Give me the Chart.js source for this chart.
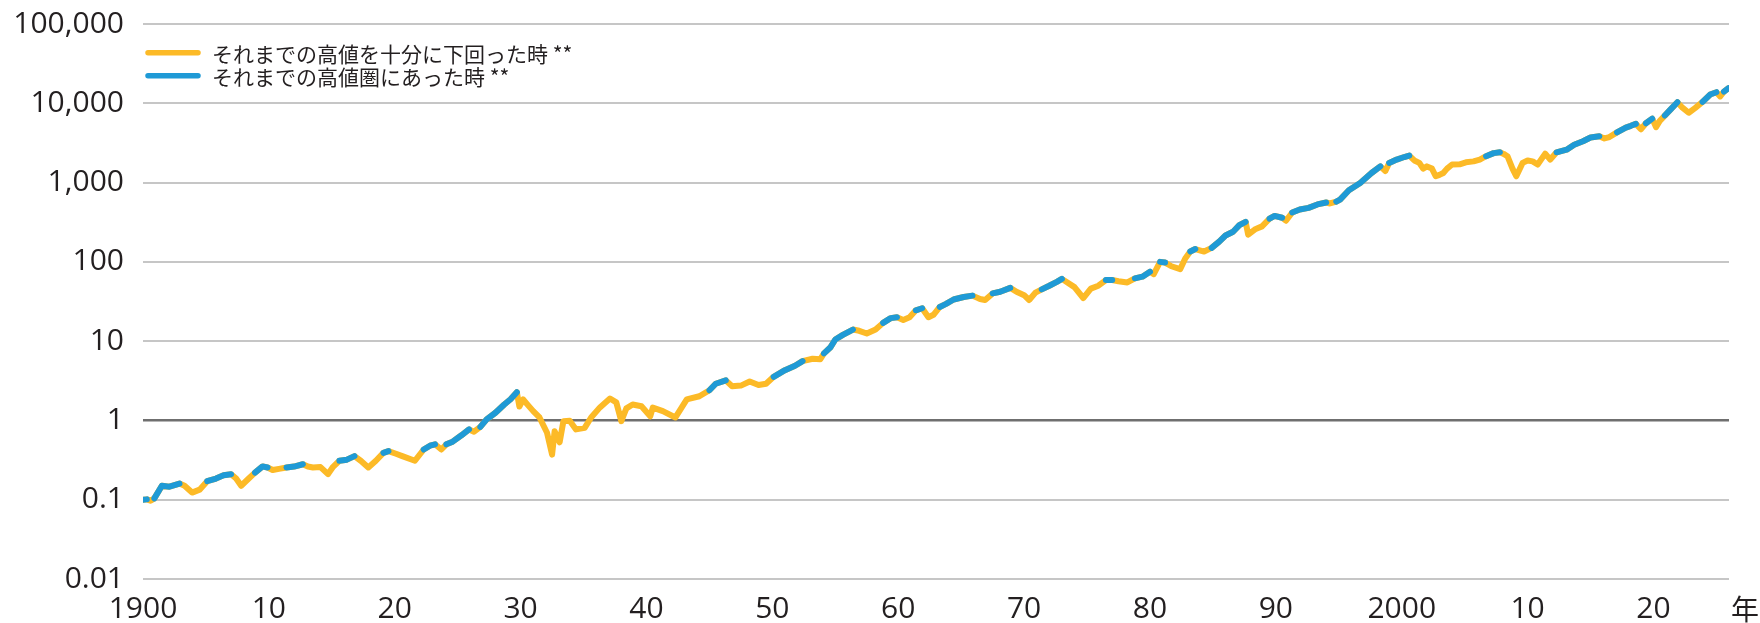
<!DOCTYPE html>
<html lang="ja">
<head>
<meta charset="utf-8">
<script src="https://cdn.jsdelivr.net/npm/chart.js@4.4.1/dist/chart.umd.min.js"></script>
<style>
html,body{margin:0;padding:0;background:#ffffff;}
canvas{display:block;}
</style>
</head>
<body>
<canvas id="c" width="1760" height="623"></canvas>
<script>
// ---- data ----
const years = [
1900.0,1900.3,1900.6,1900.9,1901.5,1902.1,1902.9,1903.3,1903.9,1904.5,
1905.1,1905.8,1906.4,1907.0,1907.4,1907.8,1908.4,1908.9,1909.5,1909.9,
1910.3,1910.8,1911.4,1912.0,1912.7,1913.1,1913.5,1914.1,1914.7,1915.1,
1915.6,1916.2,1916.8,1917.3,1917.9,1918.5,1919.1,1919.5,1920.1,1920.6,
1921.6,1922.3,1922.8,1923.2,1923.7,1924.1,1924.6,1925.3,1925.9,1926.3,
1926.8,1927.3,1928.0,1928.7,1929.2,1929.7,1929.9,1930.2,1930.6,1931.0,
1931.5,1932.1,1932.5,1932.7,1933.1,1933.4,1933.9,1934.4,1935.1,1935.6,
1936.3,1937.1,1937.6,1938.0,1938.4,1938.9,1939.6,1940.3,1940.5,1941.3,
1942.3,1943.2,1944.2,1945.0,1945.5,1946.3,1946.8,1947.5,1948.2,1948.9,
1949.5,1950.1,1951.0,1951.8,1952.4,1953.2,1953.8,1954.1,1954.6,1955.0,
1955.6,1956.4,1956.9,1957.5,1958.2,1958.8,1959.4,1959.9,1960.4,1960.9,
1961.4,1961.9,1962.4,1962.8,1963.3,1963.8,1964.4,1965.2,1965.9,1966.5,
1966.9,1967.5,1968.1,1968.9,1969.4,1970.0,1970.4,1970.9,1971.4,1972.0,
1972.6,1973.0,1973.5,1974.0,1974.7,1975.3,1975.9,1976.5,1977.0,1977.5,
1978.2,1978.8,1979.4,1980.0,1980.3,1980.8,1981.2,1981.7,1982.4,1982.8,
1983.2,1983.6,1984.3,1984.9,1985.5,1986.0,1986.6,1987.1,1987.6,1987.8,
1988.4,1988.9,1989.5,1989.9,1990.5,1990.8,1991.3,1991.9,1992.6,1993.3,
1994.0,1994.3,1994.8,1995.1,1995.8,1996.7,1997.6,1998.3,1998.7,1999.0,
1999.6,2000.2,2000.6,2001.0,2001.4,2001.7,2002.0,2002.4,2002.7,2003.0,
2003.3,2003.6,2004.0,2004.6,2005.1,2005.7,2006.2,2006.7,2007.3,2007.8,
2008.1,2008.4,2008.8,2009.1,2009.6,2010.0,2010.4,2010.8,2011.4,2011.8,
2012.3,2013.1,2013.7,2014.4,2015.0,2015.7,2016.1,2016.5,2017.1,2017.8,
2018.2,2018.6,2019.0,2019.4,2019.9,2020.2,2020.5,2020.9,2021.4,2021.9,
2022.3,2022.8,2023.3,2023.9,2024.5,2025.0,2025.3,2025.6,2025.96
];
const values = [
0.100,0.101,0.097,0.104,0.150,0.146,0.160,0.150,0.123,0.134,
0.171,0.185,0.203,0.210,0.185,0.150,0.185,0.220,0.263,0.255,
0.237,0.245,0.255,0.262,0.280,0.262,0.255,0.258,0.210,0.260,
0.310,0.320,0.355,0.310,0.255,0.310,0.390,0.410,0.380,0.355,
0.310,0.430,0.480,0.500,0.430,0.500,0.540,0.650,0.770,0.720,
0.830,1.03,1.25,1.59,1.85,2.27,1.50,1.84,1.55,1.31,
1.09,0.70,0.37,0.73,0.53,0.98,0.99,0.77,0.81,1.09,
1.46,1.89,1.69,0.98,1.42,1.59,1.51,1.13,1.45,1.31,
1.09,1.84,2.02,2.40,2.90,3.20,2.70,2.75,3.10,2.80,
2.90,3.55,4.30,4.90,5.60,6.00,5.90,7.00,8.30,10.5,
12.0,14.0,13.5,12.5,14.0,17.0,19.5,20.0,18.5,20.0,
24.5,26.0,20.0,21.5,27.0,29.5,33.5,36.0,37.5,34.0,
33.0,40.0,42.0,47.0,42.0,38.0,33.0,41.0,45.0,50.0,
56.0,61.0,54.0,48.0,35.0,46.0,50.0,59.0,59.0,57.0,
55.0,62.0,65.0,75.0,70.0,100,98.0,88.0,81.0,110,
135,145,135,150,180,215,240,290,320,220,
260,280,350,380,360,330,420,457,480,530,
560,545,575,610,800,990,1320,1600,1400,1770,
1950,2100,2190,1900,1770,1500,1600,1500,1200,1250,
1320,1500,1690,1700,1800,1850,1950,2150,2350,2410,
2300,2150,1500,1200,1770,1900,1850,1690,2320,1950,
2410,2600,3000,3320,3700,3840,3600,3750,4300,4940,
5200,5500,4700,5600,6400,5000,6000,7000,8500,10300,
8800,7600,8700,10400,12900,13800,12200,14000,15500
];
// 1 = それまでの高値圏にあった時 (blue), 0 = 高値を十分に下回った時 (yellow)
const atHigh = [
1,1,0,1,1,1,1,0,0,0,
1,1,1,1,0,0,0,1,1,1,
0,0,1,1,1,0,0,0,0,0,
1,1,1,0,0,0,1,1,0,0,
0,1,1,1,0,1,1,1,1,0,
1,1,1,1,1,1,0,0,0,0,
0,0,0,0,0,0,0,0,0,0,
0,0,0,0,0,0,0,0,0,0,
0,0,0,1,1,1,0,0,0,0,
0,1,1,1,1,0,0,1,1,1,
1,1,0,0,0,1,1,1,0,0,
1,1,0,0,1,1,1,1,1,0,
0,1,1,1,0,0,0,0,1,1,
1,1,0,0,0,0,0,1,1,0,
0,1,1,1,0,1,1,0,0,0,
1,1,0,1,1,1,1,1,1,0,
0,0,1,1,1,0,1,1,1,1,
1,0,1,1,1,1,1,1,0,1,
1,1,1,0,0,0,0,0,0,0,
0,0,0,0,0,0,0,1,1,1,
0,0,0,0,0,0,0,0,0,0,
1,1,1,1,1,1,0,0,1,1,
1,1,0,1,1,0,0,1,1,1,
0,0,0,1,1,1,0,1,1
];
const xTickValues = [1900,1910,1920,1930,1940,1950,1960,1970,1980,1990,2000,2010,2020];
const xTickLabels = ['1900','10','20','30','40','50','60','70','80','90','2000','10','20'];
const yTickValues = [0.01,0.1,1,10,100,1000,10000,100000];
const yTickLabels = ['0.01','0.1','1','10','100','1,000','10,000','100,000'];
const seriesNames = ['それまでの高値を十分に下回った時 **','それまでの高値圏にあった時 **'];
const xUnitLabel = '年';

// ---- styling ----
const YELLOW = '#FCBA27';
const BLUE = '#1F9AD6';
const TEXT = '#231F20';
const NUM_FONT = "'Open Sans', 'Noto Sans CJK JP', sans-serif";
const JP_FONT = "'Noto Sans CJK JP', 'Open Sans', sans-serif";
const LINE_W = 6;

const yellowData = years.map((x, i) => ({x: x, y: values[i]}));
const blueData = years.map((x, i) => ({x: x, y: atHigh[i] ? values[i] : null}));

const extrasPlugin = {
  id: 'extras',
  afterDraw(chart) {
    const ctx = chart.ctx;
    const area = chart.chartArea;
    ctx.save();
    // legend
    const colors = [YELLOW, BLUE];
    const rows = [52.7, 75.7];
    for (let i = 0; i < 2; i++) {
      ctx.strokeStyle = colors[i];
      ctx.lineWidth = 5.5;
      ctx.lineCap = 'round';
      ctx.beginPath();
      ctx.moveTo(area.left + 5, rows[i]);
      ctx.lineTo(area.left + 55, rows[i]);
      ctx.stroke();
      ctx.fillStyle = TEXT;
      ctx.font = "21px " + JP_FONT;
      ctx.textAlign = 'left';
      ctx.textBaseline = 'middle';
      ctx.fillText(seriesNames[i], area.left + 69, rows[i] + 1);
    }
    // unit label at the end of the x axis
    ctx.fillStyle = TEXT;
    ctx.font = "28px " + JP_FONT;
    ctx.textAlign = 'center';
    ctx.textBaseline = 'middle';
    ctx.fillText(xUnitLabel, 1745, 609);
    ctx.restore();
  }
};

new Chart(document.getElementById('c'), {
  type: 'line',
  data: {
    datasets: [
      {
        label: seriesNames[1],
        data: blueData,
        borderColor: BLUE,
        borderWidth: LINE_W,
        borderCapStyle: 'round',
        borderJoinStyle: 'round',
        pointRadius: 0,
        spanGaps: false,
        tension: 0
      },
      {
        label: seriesNames[0],
        data: yellowData,
        borderColor: YELLOW,
        borderWidth: LINE_W,
        borderCapStyle: 'round',
        borderJoinStyle: 'round',
        pointRadius: 0,
        tension: 0
      }
    ]
  },
  options: {
    responsive: false,
    animation: false,
    events: [],
    layout: { padding: { left: 0, right: 31, top: 24, bottom: 0 } },
    plugins: {
      legend: { display: false },
      tooltip: { enabled: false }
    },
    scales: {
      x: {
        type: 'linear',
        min: 1900,
        max: 2026,
        grid: { display: false, drawTicks: false },
        border: { display: false },
        afterBuildTicks(scale) {
          scale.ticks = xTickValues.map(v => ({value: v}));
        },
        afterFit(scale) { scale.height = 44; scale.paddingLeft = 0; scale.paddingRight = 0; },
        ticks: {
          autoSkip: false,
          maxRotation: 0,
          padding: 12,
          color: TEXT,
          font: { family: NUM_FONT, size: 30 },
          callback(value) {
            const i = xTickValues.indexOf(value);
            return i >= 0 ? xTickLabels[i] : '';
          }
        }
      },
      y: {
        type: 'logarithmic',
        min: 0.01,
        max: 100000,
        afterBuildTicks(scale) {
          scale.ticks = yTickValues.map(v => ({value: v}));
        },
        afterFit(scale) { scale.width = 143; scale.paddingTop = 0; scale.paddingBottom = 0; },
        grid: {
          drawTicks: false,
          color: ctx => (ctx.tick && ctx.tick.value === 1) ? '#6F6F6F' : '#C6C6C6',
          lineWidth: ctx => (ctx.tick && ctx.tick.value === 1) ? 2.5 : 2
        },
        border: { display: false },
        ticks: {
          padding: 19,
          color: TEXT,
          font: { family: NUM_FONT, size: 30 },
          callback(value) {
            const i = yTickValues.findIndex(v => Math.abs(v - value) / v < 1e-6);
            return i >= 0 ? yTickLabels[i] : '';
          }
        }
      }
    }
  },
  plugins: [extrasPlugin]
});
</script>
</body>
</html>
